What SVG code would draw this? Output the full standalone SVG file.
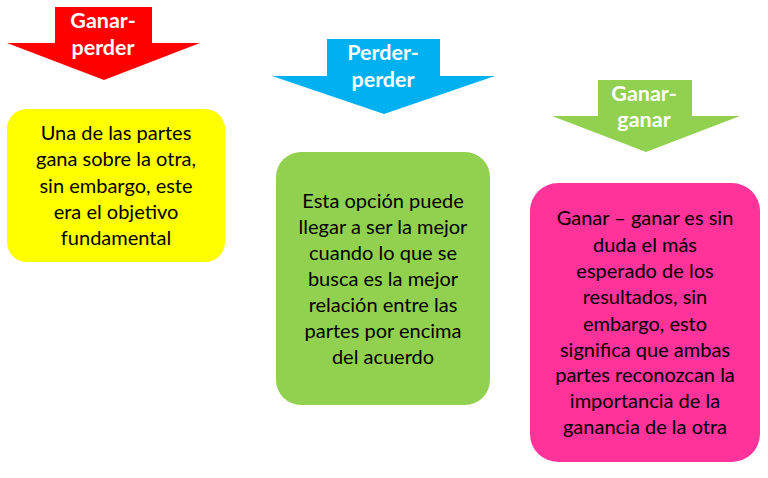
<svg xmlns="http://www.w3.org/2000/svg" width="768" height="478" viewBox="0 0 768 478">
<style>
.at{font-family:Lato,"Open Sans",sans-serif;font-weight:bold;font-size:21.5px;fill:#fff;text-anchor:middle}
.bt{font-family:Lato,"Open Sans",sans-serif;font-size:20px;fill:#000;text-anchor:middle}
</style>
<rect width="768" height="478" fill="#fff"/>
<g id="arrow-ganar-perder">
<polygon points="55,7 152,7 152,43 200,43 104,80 7,43 55,43" fill="#FF0000"/>
<text class="at" x="103" y="28">Ganar-</text>
<text class="at" x="103" y="55">perder</text>
</g>
<g id="arrow-perder-perder">
<polygon points="327,39 440,39 440,76 495,76 384,114 272,76 327,76" fill="#00B0F0"/>
<text class="at" x="383" y="60">Perder-</text>
<text class="at" x="383" y="87">perder</text>
</g>
<g id="arrow-ganar-ganar">
<polygon points="598,80 692,80 692,116 740,116 646,152 552,116 598,116" fill="#92D050"/>
<text class="at" x="644" y="101">Ganar-</text>
<text class="at" x="644" y="127">ganar</text>
</g>
<g id="box-ganar-perder">
<rect x="7" y="109" width="218" height="153" rx="20" fill="#FFFF00"/>
<text class="bt" x="116" y="140">Una de las partes</text>
<text class="bt" x="116" y="166">gana sobre la otra,</text>
<text class="bt" x="116" y="193">sin embargo, este</text>
<text class="bt" x="116" y="219">era el objetivo</text>
<text class="bt" x="116" y="245">fundamental</text>
</g>
<g id="box-perder-perder">
<rect x="276" y="152" width="214" height="253" rx="25" fill="#92D050"/>
<text class="bt" x="383" y="208">Esta opción puede</text>
<text class="bt" x="383" y="234">llegar a ser la mejor</text>
<text class="bt" x="383" y="260">cuando lo que se</text>
<text class="bt" x="383" y="286">busca es la mejor</text>
<text class="bt" x="383" y="312">relación entre las</text>
<text class="bt" x="383" y="338">partes por encima</text>
<text class="bt" x="383" y="364">del acuerdo</text>
</g>
<g id="box-ganar-ganar">
<rect x="530" y="183" width="230" height="279" rx="28" fill="#FF3399"/>
<text class="bt" x="645" y="225">Ganar – ganar es sin</text>
<text class="bt" x="645" y="252">duda el más</text>
<text class="bt" x="645" y="278">esperado de los</text>
<text class="bt" x="645" y="304">resultados, sin</text>
<text class="bt" x="645" y="331">embargo, esto</text>
<text class="bt" x="645" y="357">significa que ambas</text>
<text class="bt" x="645" y="382">partes reconozcan la</text>
<text class="bt" x="645" y="408">importancia de la</text>
<text class="bt" x="645" y="434">ganancia de la otra</text>
</g>
<g id="connectors"></g>
</svg>
